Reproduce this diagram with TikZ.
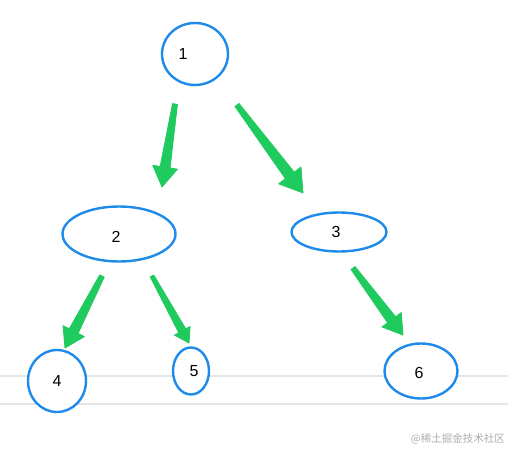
\documentclass[tikz,border=0pt]{standalone}
\usepackage{fontspec}
\setmainfont{Liberation Sans}
\newfontfamily\cjk{Noto Sans CJK SC}
\usetikzlibrary{shapes.geometric,calc}
\definecolor{nodeblue}{HTML}{1E8BEB}
\definecolor{arrgreen}{HTML}{1FCB5E}
\definecolor{rulegray}{HTML}{E6E6E6}
\tikzset{
  tnode/.style={ellipse,draw=nodeblue,line width=2.4pt,fill=white,inner sep=0pt},
  numfont/.style={font=\fontsize{16}{18}\selectfont},
  rule/.style={draw=rulegray,line width=2.8pt},
  fat/.style={fill=arrgreen,draw=arrgreen,line width=0.8pt,line join=round},
}
% #1 tail, #2 tip, #3 head length, #4 head half width, #5 tail half width, #6 shaft half width
\newcommand{\garrow}[6]{%
  \coordinate (gB) at ($(#2)!#3!(#1)$);
  \path[fat] ($(#1)!#5!90:(#2)$) -- ($(gB)!#6!-90:(#1)$) -- ($(gB)!#4!-90:(#1)$) -- (#2)
    -- ($(gB)!#4!90:(#1)$) -- ($(gB)!#6!90:(#1)$) -- ($(#1)!#5!-90:(#2)$) -- cycle;
}
\begin{document}
\begin{tikzpicture}[x=1pt,y=-1pt]
\useasboundingbox (0,0) rectangle (508,449);
\fill[white] (0,0) rectangle (508,449);
% grey rules
\coordinate (r1l) at (0,376); \coordinate (r1r) at (508,376);
\coordinate (r2l) at (0,404); \coordinate (r2r) at (508,404);
\draw[rule] (r1l) -- (r1r);
\draw[rule] (r2l) -- (r2r);
% nodes
\node[tnode,minimum width=66pt,minimum height=62pt,label={[xshift=-12pt,numfont]center:1}] (n1) at (195,54) {};
\node[tnode,minimum width=113pt,minimum height=55pt,label={[xshift=-3pt,yshift=-3pt,numfont]center:2}] (n2) at (119,234) {};
\node[tnode,minimum width=95pt,minimum height=39pt,label={[xshift=-3pt,numfont]center:3}] (n3) at (339,232) {};
\node[tnode,minimum width=58pt,minimum height=62pt,label={[numfont]center:4}] (n4) at (57,381) {};
\node[tnode,minimum width=36pt,minimum height=47pt,label={[xshift=3pt,numfont]center:5}] (n5) at (191,371) {};
\node[tnode,minimum width=73pt,minimum height=55pt,label={[xshift=-2pt,yshift=-2pt,numfont]center:6}] (n6) at (421,371) {};
% arrow end points
\coordinate (a12t) at (175,104); \coordinate (a12h) at (162,187);
\coordinate (a13t) at (237,105); \coordinate (a13h) at (303,193);
\coordinate (a24t) at (102,276); \coordinate (a24h) at (65,348);
\coordinate (a25t) at (152,276); \coordinate (a25h) at (189,343);
\coordinate (a36t) at (353,268); \coordinate (a36h) at (403,335);
\garrow{a12t}{a12h}{20pt}{12.5pt}{2.5pt}{5pt}
\garrow{a13t}{a13h}{22pt}{14pt}{2.5pt}{5.5pt}
\garrow{a24t}{a24h}{19pt}{12pt}{2.5pt}{5pt}
\garrow{a25t}{a25h}{14pt}{9pt}{2pt}{4pt}
\garrow{a36t}{a36h}{19pt}{12pt}{2.5pt}{5pt}
% watermark
\node[anchor=east,inner sep=0pt,text=black!32,font=\cjk\fontsize{10.5}{12}\selectfont] (wm) at (505,439) {@稀土掘金技术社区};
\end{tikzpicture}
\end{document}
